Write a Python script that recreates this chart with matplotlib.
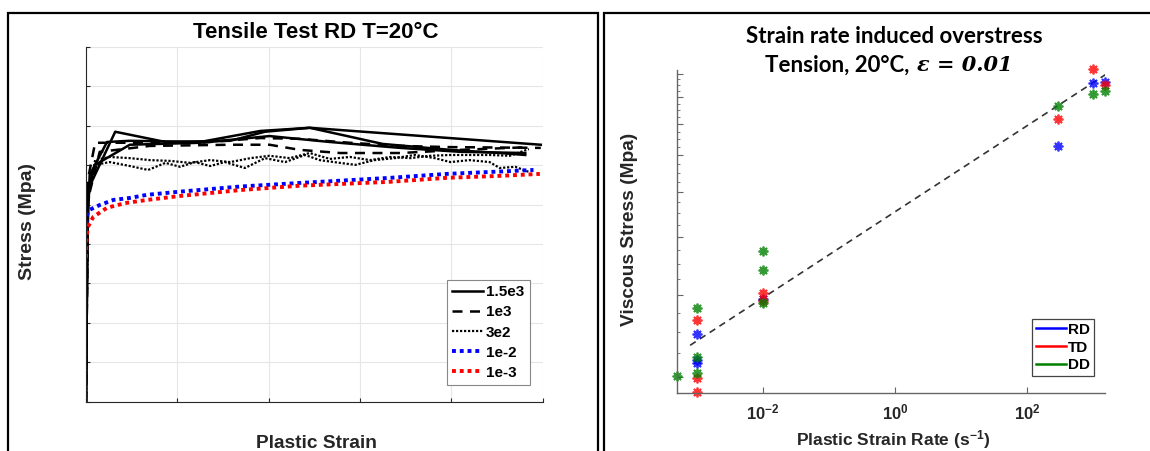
import matplotlib
matplotlib.use("Agg")
import matplotlib.pyplot as plt
from matplotlib.patches import Rectangle
from matplotlib.ticker import MultipleLocator, NullFormatter, FixedLocator, NullLocator

plt.rcParams["mathtext.fontset"] = "custom"
plt.rcParams["mathtext.rm"] = "Liberation Sans"
plt.rcParams["mathtext.bf"] = "Liberation Sans:bold"
plt.rcParams["mathtext.it"] = "Liberation Sans:italic"

# ---- Left panel: tensile curves (plastic strain, stress in MPa) ----
s1_x = [0, 0.001, 0.002, 0.032, 0.087, 0.158, 0.196, 0.245, 0.325, 0.399, 0.453, 0.481]
s1_y = [0, 258, 537, 685, 659, 662, 685, 695, 654, 639, 631, 626]
s2_x = [0, 0.001, 0.004, 0.023, 0.048, 0.125, 0.191, 0.245, 0.498]
s2_y = [0, 385, 575, 659, 662, 659, 687, 695, 652]
s3_x = [0, 0.002, 0.010, 0.048, 0.125, 0.201, 0.267, 0.344, 0.410, 0.481]
s3_y = [0, 537, 601, 652, 657, 674, 659, 644, 634, 631]

d1_x = [0, 0.002, 0.010, 0.125, 0.191, 0.234, 0.289, 0.344, 0.399, 0.498]
d1_y = [0, 563, 657, 657, 669, 667, 657, 649, 646, 644]
d2_x = [0, 0.002, 0.015, 0.070, 0.158, 0.201, 0.234, 0.278, 0.344, 0.410, 0.486]
d2_y = [0, 512, 634, 649, 652, 652, 639, 631, 631, 639, 646]

t1_x = [0, 0.002, 0.010, 0.026, 0.048, 0.070, 0.092, 0.114, 0.136, 0.158, 0.180, 0.201,
        0.223, 0.245, 0.267, 0.289, 0.311, 0.333, 0.355, 0.377, 0.399, 0.420, 0.442, 0.464, 0.485]
t1_y = [0, 512, 613, 621, 618, 613, 611, 606, 613, 608, 618, 624,
        618, 631, 616, 621, 613, 621, 618, 624, 626, 626, 626, 624, 641]
t2_x = [0, 0.002, 0.010, 0.026, 0.048, 0.068, 0.087, 0.103, 0.119, 0.136, 0.152, 0.174, 0.196,
        0.218, 0.240, 0.256, 0.278, 0.295, 0.316, 0.338, 0.360, 0.382, 0.399, 0.420, 0.442,
        0.453, 0.470, 0.485]
t2_y = [0, 537, 601, 608, 598, 588, 606, 596, 608, 598, 608, 593, 618,
        608, 626, 613, 606, 601, 613, 618, 626, 618, 608, 613, 608,
        593, 596, 583]

b_x = [0, 0.0005, 0.001, 0.004, 0.015, 0.030, 0.048, 0.067, 0.103, 0.169, 0.234, 0.333, 0.395, 0.453, 0.490]
b_y = [431, 456, 474, 487, 499, 512, 517, 525, 533, 546, 555, 568, 578, 584, 588]
r_x = [0, 0.0003, 0.001, 0.002, 0.008, 0.023, 0.043, 0.067, 0.103, 0.169, 0.234, 0.333, 0.395, 0.453, 0.497]
r_y = [365, 398, 423, 443, 469, 492, 504, 512, 522, 537, 548, 558, 568, 573, 578]

# ---- Right panel: viscous stress vs plastic strain rate ----
rd_rate = [1e-3, 1e-3, 1e-3, 1e-2, 3e2, 1e3, 1.5e3]
rd_stress = [24.7, 21.8, 21.4, 29.5, 62.9, 86.0, 86.2]
td_rate = [1e-3, 1e-3, 1e-3, 1e-2, 1e-2, 3e2, 1e3, 1.5e3]
td_stress = [26.5, 19.9, 18.6, 30.3, 29.1, 71.8, 92.1, 85.1]
dd_rate = [5e-4, 1e-3, 1e-3, 1e-3, 1e-2, 1e-2, 1e-2, 3e2, 1e3, 1.5e3]
dd_stress = [20.1, 28.1, 22.1, 20.4, 37.3, 34.0, 28.9, 76.7, 81.4, 82.7]
fit_rate = [7.9e-4, 1.58e3]
fit_stress = [23.4, 89.7]

fig = plt.figure(figsize=(11.5, 4.51), dpi=100)
W, H = 1150, 451

def fx(px):
    return px / W

def fy(py):
    return 1 - py / H

gray = "#262626"

# frames around both figures
fig.add_artist(Rectangle((fx(7.7), -0.2), fx(598 - 7.7), fy(13.3) + 0.2, transform=fig.transFigure,
                         fill=False, lw=1.6, ec="black"))
fig.add_artist(Rectangle((fx(604), -0.2), 0.6, fy(13.3) + 0.2, transform=fig.transFigure,
                         fill=False, lw=1.6, ec="black"))

# left axes
ax1 = fig.add_axes([fx(86), fy(401.7), fx(542.6 - 86), (401.7 - 47) / H])
ax1.plot(s1_x, s1_y, color="black", lw=1.8, label="1.5e3")
ax1.plot(s2_x, s2_y, color="black", lw=1.8, label="_nolegend_")
ax1.plot(s3_x, s3_y, color="black", lw=1.8, label="_nolegend_")
ax1.plot(d1_x, d1_y, color="black", lw=1.8, ls=(0, (4, 3)), label="1e3")
ax1.plot(d2_x, d2_y, color="black", lw=1.8, ls=(0, (4, 3)), label="_nolegend_")
ax1.plot(t1_x, t1_y, color="black", lw=1.6, ls=(0, (1, 0.8)), label="3e2")
ax1.plot(t2_x, t2_y, color="black", lw=1.6, ls=(0, (1, 0.8)), label="_nolegend_")
ax1.plot(b_x, b_y, color="blue", lw=2.8, ls=(0, (1, 1)), label="1e-2")
ax1.plot(r_x, r_y, color="red", lw=2.8, ls=(0, (1, 1)), label="1e-3")
ax1.set_xlim(0, 0.5)
ax1.set_ylim(0, 900)
ax1.xaxis.set_major_locator(MultipleLocator(0.1))
ax1.yaxis.set_major_locator(MultipleLocator(100))
ax1.xaxis.set_major_formatter(NullFormatter())
ax1.yaxis.set_major_formatter(NullFormatter())
ax1.grid(True, color="#e6e6e6", lw=0.8)
ax1.set_axisbelow(True)
for side in ["top", "right"]:
    ax1.spines[side].set_visible(False)
for side in ["left", "bottom"]:
    ax1.spines[side].set_color(gray)
    ax1.spines[side].set_linewidth(0.8)
ax1.tick_params(direction="in", length=3, color=gray)
leg1 = ax1.legend(loc="upper left", bbox_to_anchor=(fx(447), fy(280)), bbox_transform=fig.transFigure,
                  borderaxespad=0, fancybox=False, framealpha=1, edgecolor="#888888",
                  prop={"family": "Liberation Sans", "weight": "bold", "size": 11},
                  handlelength=2.0, handletextpad=0.2, labelspacing=0.4, borderpad=0.35)
leg1.get_frame().set_linewidth(0.8)

fig.text(fx(316), fy(32), "Tensile Test RD T=20°C", ha="center", va="center",
         family="Liberation Sans", weight="bold", size=16)
fig.text(fx(27.6), fy(222), "Stress (Mpa)", ha="center", va="center", rotation=90,
         family="Liberation Sans", weight="bold", size=14, color=gray)
fig.text(fx(316), fy(435), "Plastic Strain", ha="center", va="top",
         family="Liberation Sans", weight="bold", size=13.8, color=gray)

# right axes
ax2 = fig.add_axes([fx(677), fy(392.7), fx(1104.6 - 677), (392.7 - 70) / H])
mk = dict(ls="none", marker=(8, 2, 0), ms=7, mew=1.3, alpha=0.8, clip_on=False)
ax2.plot(fit_rate, fit_stress, color="#333333", lw=1.2, ls=(0, (4, 3)))
ax2.plot(rd_rate, rd_stress, color="blue", **mk)
ax2.plot(td_rate, td_stress, color="red", **mk)
ax2.plot(dd_rate, dd_stress, color="green", **mk)
ax2.plot([], [], color="blue", lw=1.8, label="RD")
ax2.plot([], [], color="red", lw=1.8, label="TD")
ax2.plot([], [], color="green", lw=1.8, label="DD")
ax2.set_xscale("log")
ax2.set_yscale("log")
ax2.set_xlim(5e-4, 1.5e3)
ax2.set_ylim(18.5, 91.6)
ax2.xaxis.set_major_locator(FixedLocator([1e-2, 1, 1e2]))
ax2.xaxis.set_minor_locator(NullLocator())
ax2.set_xticklabels([r"$\mathbf{10^{-2}}$", r"$\mathbf{10^{0}}$", r"$\mathbf{10^{2}}$"])
ax2.yaxis.set_major_locator(FixedLocator([20, 30, 40, 50, 60, 70, 80, 90]))
ax2.yaxis.set_minor_locator(FixedLocator([v * 2.5 for v in range(8, 37)]))
ax2.yaxis.set_major_formatter(NullFormatter())
ax2.yaxis.set_minor_formatter(NullFormatter())
for side in ["top", "right"]:
    ax2.spines[side].set_visible(False)
for side in ["left", "bottom"]:
    ax2.spines[side].set_color("#666666")
    ax2.spines[side].set_linewidth(1.0)
ax2.tick_params(which="major", direction="in", length=4, color="#666666", labelsize=12,
                labelcolor=gray, pad=8)
ax2.tick_params(which="minor", direction="in", length=2.5, color="#666666")
leg2 = ax2.legend(loc="upper left", bbox_to_anchor=(fx(1032), fy(319)), bbox_transform=fig.transFigure,
                  borderaxespad=0, fancybox=False, framealpha=1, edgecolor="#444444",
                  prop={"family": "Liberation Sans", "weight": "bold", "size": 11},
                  handlelength=2.0, handletextpad=0.1, labelspacing=0.25, borderpad=0.25)
leg2.get_frame().set_linewidth(0.9)

fig.text(fx(894), fy(36.7), "Strain rate induced overstress", ha="center", va="center",
         family="Lato", weight="bold", size=16)
fig.text(fx(915), fy(65), "Tension, 20°C, ", ha="right", va="center",
         family="Lato", weight="bold", size=16)
fig.text(fx(917), fy(65), "ε = 0.01", ha="left", va="center",
         family="DejaVu Serif", weight="bold", style="italic", size=15)
fig.text(fx(630), fy(229), "Viscous Stress (Mpa)", ha="center", va="center", rotation=90,
         family="Liberation Sans", weight="bold", size=13.8, color=gray)
fig.text(fx(893), fy(428), r"Plastic Strain Rate (s$^{\mathbf{-1}}$)", ha="center", va="top",
         family="Liberation Sans", weight="bold", size=12.5, color=gray)

fig.savefig("out.png", dpi=100)
